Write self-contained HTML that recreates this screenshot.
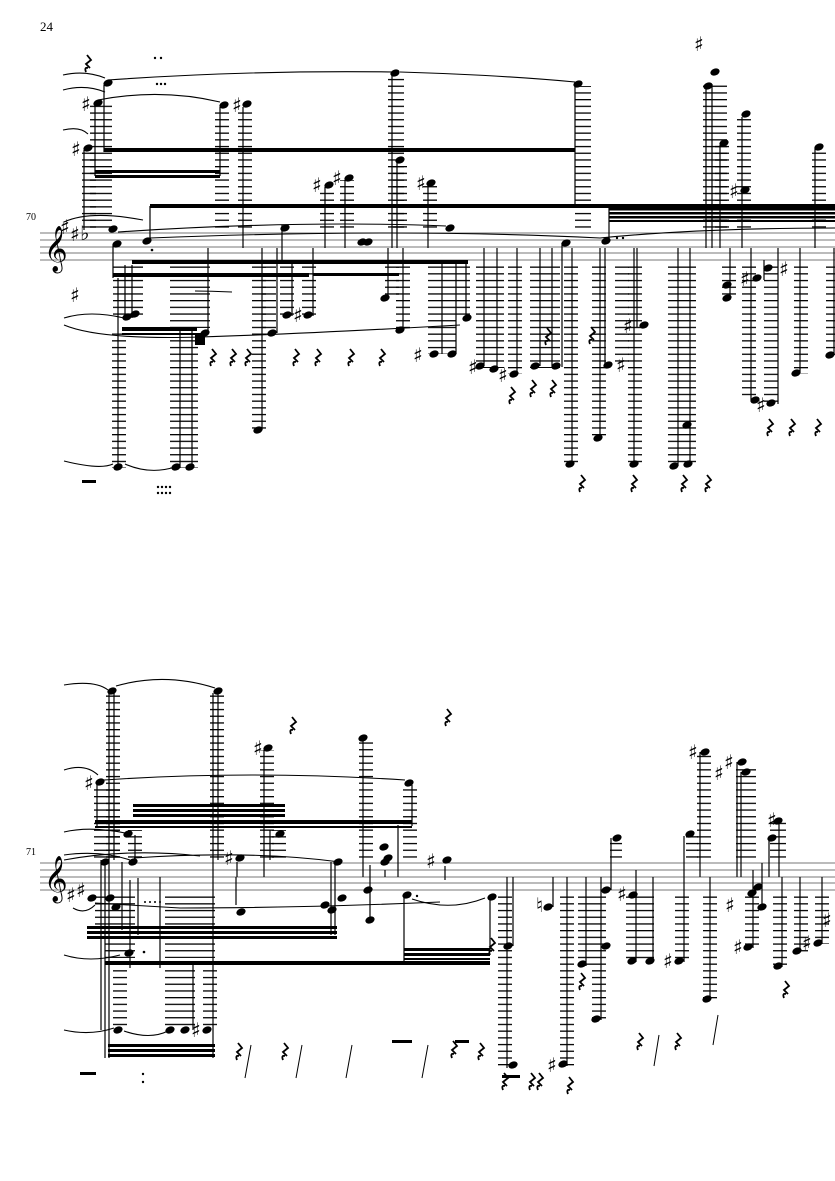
<!DOCTYPE html>
<html><head><meta charset="utf-8"><style>
html,body{margin:0;padding:0;background:#fff;}
svg{display:block;}
text{font-family:"Liberation Serif","DejaVu Serif",serif;}
.s{font-family:"DejaVu Sans",sans-serif;font-size:20px;}
</style></head><body>
<svg width="835" height="1181" viewBox="0 0 835 1181" xmlns="http://www.w3.org/2000/svg">
<defs>
<pattern id="L1" patternUnits="userSpaceOnUse" x="0" y="233" width="10" height="6.7"><rect x="0" y="0" width="10" height="1.3" fill="#000"/></pattern>
<pattern id="L2" patternUnits="userSpaceOnUse" x="0" y="863" width="10" height="6.7"><rect x="0" y="0" width="10" height="1.3" fill="#000"/></pattern>
<g id="n"><ellipse cx="0" cy="0" rx="4.8" ry="3.4" transform="rotate(-22)" fill="#000"/></g>
<g id="r"><path d="M-1,-7 L3,-2 L-2,2 L2,6 M0,6 q-4,-1 -2,4" stroke="#000" stroke-width="1.8" fill="none"/></g>
</defs>
<text x="40" y="31" font-size="13">24</text>
<text x="26" y="220" font-size="10">70</text>
<text x="26" y="855" font-size="10">71</text>

<g stroke="#777" stroke-width="1">
<line x1="40" y1="233" x2="835" y2="233"/><line x1="40" y1="240" x2="835" y2="240"/><line x1="40" y1="247" x2="835" y2="247"/><line x1="40" y1="253" x2="835" y2="253"/><line x1="40" y1="260" x2="835" y2="260"/>
</g>
<text x="44" y="262" font-size="40" font-family="DejaVu Sans">𝄞</text>
<text class="s" x="60" y="234">♯</text><text class="s" x="70" y="241">♯</text><text class="s" x="80" y="240" font-size="14">♭</text>

<g>
<rect x="82" y="150" width="14" height="80" fill="url(#L1)"/>
<rect x="90" y="105" width="22" height="125" fill="url(#L1)"/>
<rect x="215" y="108" width="14" height="122" fill="url(#L1)"/>
<rect x="238" y="108" width="14" height="122" fill="url(#L1)"/>
<rect x="320" y="188" width="14" height="42" fill="url(#L1)"/>
<rect x="340" y="180" width="14" height="50" fill="url(#L1)"/>
<rect x="388" y="76" width="16" height="154" fill="url(#L1)"/>
<rect x="393" y="162" width="14" height="68" fill="url(#L1)"/>
<rect x="423" y="186" width="14" height="44" fill="url(#L1)"/>
<rect x="575" y="86" width="16" height="144" fill="url(#L1)"/>
<rect x="703" y="84" width="24" height="146" fill="url(#L1)"/>
<rect x="715" y="145" width="14" height="85" fill="url(#L1)"/>
<rect x="737" y="116" width="14" height="114" fill="url(#L1)"/>
<rect x="812" y="148" width="14" height="82" fill="url(#L1)"/>
</g>
<g>
<rect x="113" y="266" width="30" height="52" fill="url(#L1)"/>
<rect x="170" y="266" width="40" height="62" fill="url(#L1)"/>
<rect x="112" y="330" width="14" height="138" fill="url(#L1)"/>
<rect x="170" y="330" width="28" height="138" fill="url(#L1)"/>
<rect x="252" y="266" width="14" height="164" fill="url(#L1)"/>
<rect x="262" y="266" width="14" height="68" fill="url(#L1)"/>
<rect x="280" y="266" width="14" height="50" fill="url(#L1)"/>
<rect x="302" y="266" width="14" height="50" fill="url(#L1)"/>
<rect x="385" y="266" width="14" height="32" fill="url(#L1)"/>
<rect x="396" y="266" width="14" height="64" fill="url(#L1)"/>
<rect x="428" y="266" width="28" height="88" fill="url(#L1)"/>
<rect x="456" y="266" width="14" height="52" fill="url(#L1)"/>
<rect x="476" y="266" width="28" height="102" fill="url(#L1)"/>
<rect x="508" y="266" width="14" height="108" fill="url(#L1)"/>
<rect x="530" y="266" width="30" height="102" fill="url(#L1)"/>
<rect x="564" y="266" width="14" height="198" fill="url(#L1)"/>
<rect x="592" y="266" width="14" height="172" fill="url(#L1)"/>
<rect x="615" y="266" width="14" height="100" fill="url(#L1)"/>
<rect x="628" y="266" width="14" height="198" fill="url(#L1)"/>
<rect x="668" y="266" width="28" height="200" fill="url(#L1)"/>
<rect x="722" y="266" width="14" height="34" fill="url(#L1)"/>
<rect x="742" y="266" width="14" height="134" fill="url(#L1)"/>
<rect x="764" y="266" width="14" height="138" fill="url(#L1)"/>
<rect x="794" y="266" width="14" height="108" fill="url(#L1)"/>
<rect x="826" y="266" width="9" height="90" fill="url(#L1)"/>
</g>
<g stroke="#000" stroke-width="1.2">
<line x1="84" y1="150" x2="84" y2="230"/>
<line x1="95" y1="105" x2="95" y2="176"/>
<line x1="104" y1="85" x2="104" y2="152"/>
<line x1="220" y1="107" x2="220" y2="176"/>
<line x1="243" y1="107" x2="243" y2="248"/>
<line x1="325" y1="187" x2="325" y2="248"/>
<line x1="345" y1="180" x2="345" y2="248"/>
<line x1="392" y1="75" x2="392" y2="248"/>
<line x1="397" y1="162" x2="397" y2="248"/>
<line x1="428" y1="186" x2="428" y2="248"/>
<line x1="150" y1="206" x2="150" y2="240"/>
<line x1="113" y1="245" x2="113" y2="278"/>
<line x1="575" y1="85" x2="575" y2="208"/>
<line x1="609" y1="208" x2="609" y2="240"/>
<line x1="706" y1="88" x2="706" y2="248"/>
<line x1="712" y1="84" x2="712" y2="248"/>
<line x1="720" y1="145" x2="720" y2="248"/>
<line x1="742" y1="117" x2="742" y2="248"/>
<line x1="815" y1="148" x2="815" y2="248"/>
<line x1="118" y1="278" x2="118" y2="468"/>
<line x1="125" y1="265" x2="125" y2="318"/>
<line x1="132" y1="265" x2="132" y2="318"/>
<line x1="180" y1="330" x2="180" y2="468"/>
<line x1="192" y1="330" x2="192" y2="468"/>
<line x1="208" y1="248" x2="208" y2="333"/>
<line x1="262" y1="248" x2="262" y2="430"/>
<line x1="277" y1="248" x2="277" y2="333"/>
<line x1="282" y1="225" x2="282" y2="262"/>
<line x1="292" y1="262" x2="292" y2="316"/>
<line x1="313" y1="248" x2="313" y2="316"/>
<line x1="388" y1="248" x2="388" y2="298"/>
<line x1="403" y1="248" x2="403" y2="330"/>
<line x1="442" y1="262" x2="442" y2="354"/>
<line x1="456" y1="262" x2="456" y2="354"/>
<line x1="466" y1="262" x2="466" y2="318"/>
<line x1="484" y1="248" x2="484" y2="366"/>
<line x1="497" y1="248" x2="497" y2="368"/>
<line x1="517" y1="248" x2="517" y2="374"/>
<line x1="540" y1="248" x2="540" y2="366"/>
<line x1="552" y1="248" x2="552" y2="366"/>
<line x1="562" y1="243" x2="562" y2="367"/>
<line x1="572" y1="248" x2="572" y2="464"/>
<line x1="600" y1="248" x2="600" y2="438"/>
<line x1="605" y1="248" x2="605" y2="366"/>
<line x1="637" y1="248" x2="637" y2="327"/>
<line x1="634" y1="248" x2="634" y2="464"/>
<line x1="678" y1="248" x2="678" y2="466"/>
<line x1="690" y1="248" x2="690" y2="464"/>
<line x1="730" y1="248" x2="730" y2="300"/>
<line x1="751" y1="248" x2="751" y2="400"/>
<line x1="764" y1="260" x2="764" y2="280"/>
<line x1="778" y1="248" x2="778" y2="404"/>
<line x1="800" y1="248" x2="800" y2="373"/>
<line x1="834" y1="248" x2="834" y2="355"/>
</g>
<g fill="#000">
<rect x="104" y="148" width="471" height="4"/>
<rect x="95" y="170" width="125" height="3"/>
<rect x="95" y="175" width="125" height="3"/>
<rect x="150" y="204" width="685" height="4"/>
<rect x="609" y="208" width="226" height="2.5"/>
<rect x="609" y="212" width="226" height="2.5"/>
<rect x="609" y="216" width="226" height="2.5"/>
<rect x="609" y="220" width="226" height="2"/>
<rect x="132" y="260" width="336" height="4"/>
<rect x="113" y="273" width="196" height="4"/>
<rect x="313" y="273" width="86" height="3"/>
<rect x="122" y="327" width="75" height="4"/>
<rect x="122" y="333" width="75" height="2"/>
<rect x="195" y="333" width="10" height="12"/>
</g>
<g>
<use href="#n" x="88" y="148"/><use href="#n" x="98" y="103"/><use href="#n" x="108" y="83"/>
<use href="#n" x="224" y="105"/><use href="#n" x="247" y="104"/>
<use href="#n" x="329" y="185"/><use href="#n" x="349" y="178"/>
<use href="#n" x="395" y="73"/><use href="#n" x="400" y="160"/><use href="#n" x="431" y="183"/>
<use href="#n" x="113" y="229"/><use href="#n" x="117" y="244"/><use href="#n" x="147" y="241"/>
<use href="#n" x="285" y="228"/><use href="#n" x="362" y="242"/><use href="#n" x="368" y="242"/>
<use href="#n" x="450" y="228"/><use href="#n" x="566" y="243"/><use href="#n" x="606" y="241"/>
<use href="#n" x="578" y="84"/><use href="#n" x="708" y="86"/><use href="#n" x="715" y="72"/>
<use href="#n" x="724" y="143"/><use href="#n" x="746" y="114"/><use href="#n" x="745" y="190"/><use href="#n" x="819" y="147"/>
<use href="#n" x="127" y="317"/><use href="#n" x="135" y="314"/><use href="#n" x="118" y="467"/>
<use href="#n" x="176" y="467"/><use href="#n" x="190" y="467"/><use href="#n" x="205" y="333"/>
<use href="#n" x="258" y="430"/><use href="#n" x="272" y="333"/><use href="#n" x="287" y="315"/><use href="#n" x="308" y="315"/>
<use href="#n" x="385" y="298"/><use href="#n" x="400" y="330"/><use href="#n" x="434" y="354"/><use href="#n" x="452" y="354"/>
<use href="#n" x="467" y="318"/><use href="#n" x="480" y="366"/><use href="#n" x="494" y="369"/><use href="#n" x="514" y="374"/>
<use href="#n" x="535" y="366"/><use href="#n" x="556" y="366"/><use href="#n" x="570" y="464"/><use href="#n" x="598" y="438"/>
<use href="#n" x="608" y="365"/><use href="#n" x="644" y="325"/><use href="#n" x="634" y="464"/>
<use href="#n" x="674" y="466"/><use href="#n" x="688" y="464"/><use href="#n" x="687" y="425"/>
<use href="#n" x="727" y="298"/><use href="#n" x="727" y="285"/><use href="#n" x="757" y="278"/><use href="#n" x="755" y="400"/>
<use href="#n" x="768" y="268"/><use href="#n" x="771" y="403"/><use href="#n" x="796" y="373"/><use href="#n" x="830" y="355"/>
</g>
<g>
<text class="s" x="71" y="156">♯</text><text class="s" x="81" y="111">♯</text><text class="s" x="232" y="112">♯</text>
<text class="s" x="312" y="192">♯</text><text class="s" x="332" y="185">♯</text><text class="s" x="416" y="190">♯</text>
<text class="s" x="70" y="302">♯</text><text class="s" x="293" y="322">♯</text><text class="s" x="413" y="362">♯</text>
<text class="s" x="468" y="374">♯</text><text class="s" x="498" y="382">♯</text><text class="s" x="623" y="333">♯</text>
<text class="s" x="616" y="372">♯</text><text class="s" x="694" y="51">♯</text><text class="s" x="729" y="198">♯</text>
<text class="s" x="740" y="286">♯</text><text class="s" x="756" y="412">♯</text><text class="s" x="779" y="276">♯</text>
</g>
<g>
<use href="#r" x="88" y="62"/><use href="#r" x="213" y="356"/><use href="#r" x="233" y="356"/><use href="#r" x="248" y="356"/>
<use href="#r" x="296" y="356"/><use href="#r" x="318" y="356"/><use href="#r" x="351" y="356"/><use href="#r" x="382" y="356"/>
<use href="#r" x="548" y="335"/><use href="#r" x="592" y="334"/><use href="#r" x="512" y="394"/><use href="#r" x="533" y="387"/><use href="#r" x="553" y="387"/>
<use href="#r" x="582" y="482"/><use href="#r" x="634" y="482"/><use href="#r" x="684" y="482"/><use href="#r" x="708" y="482"/>
<use href="#r" x="770" y="426"/><use href="#r" x="792" y="426"/><use href="#r" x="818" y="426"/>
<rect x="82" y="480" width="14" height="3"/>
</g>
<g fill="none" stroke="#000" stroke-width="1.1">
<path d="M108,80 Q250,70 395,72"/><path d="M400,72 Q500,75 575,82"/>
<path d="M98,100 Q160,88 220,102"/>
<path d="M118,232 Q300,220 446,226"/><path d="M150,238 Q400,228 600,238 Q700,228 835,228"/>
<path d="M64,222 Q90,210 143,220"/>
<path d="M63,75 Q85,70 105,78"/><path d="M63,90 Q85,84 105,92"/><path d="M63,130 Q80,126 88,134"/>
<path d="M64,318 Q90,310 124,318"/><path d="M64,325 Q100,340 200,337 Q300,334 460,325"/>
<path d="M195,291 Q210,291 232,292"/><path d="M64,461 Q100,470 113,464"/><path d="M125,464 Q150,475 175,467"/>
</g>
<g fill="#000"><circle cx="155" cy="58" r="1.2"/><circle cx="161" cy="58" r="1.2"/><circle cx="157" cy="84" r="1.2"/><circle cx="161" cy="84" r="1.2"/><circle cx="165" cy="84" r="1.2"/><circle cx="152" cy="250" r="1.3"/><circle cx="158" cy="487" r="1.2"/><circle cx="162" cy="487" r="1.2"/><circle cx="166" cy="487" r="1.2"/><circle cx="170" cy="487" r="1.2"/><circle cx="158" cy="493" r="1.2"/><circle cx="162" cy="493" r="1.2"/><circle cx="166" cy="493" r="1.2"/><circle cx="170" cy="493" r="1.2"/><circle cx="623" cy="238" r="1.2"/><circle cx="617" cy="238" r="1.2"/></g>

<g stroke="#777" stroke-width="1">
<line x1="40" y1="863" x2="835" y2="863"/><line x1="40" y1="870" x2="835" y2="870"/><line x1="40" y1="877" x2="835" y2="877"/><line x1="40" y1="883" x2="835" y2="883"/><line x1="40" y1="890" x2="835" y2="890"/>
</g>
<text x="44" y="892" font-size="40" font-family="DejaVu Sans">𝄞</text>
<g>
<rect x="106" y="693" width="14" height="167" fill="url(#L2)"/>
<rect x="210" y="693" width="14" height="167" fill="url(#L2)"/>
<rect x="94" y="785" width="26" height="75" fill="url(#L2)"/>
<rect x="128" y="830" width="14" height="30" fill="url(#L2)"/>
<rect x="260" y="750" width="14" height="110" fill="url(#L2)"/>
<rect x="272" y="830" width="14" height="30" fill="url(#L2)"/>
<rect x="359" y="740" width="14" height="120" fill="url(#L2)"/>
<rect x="403" y="785" width="14" height="75" fill="url(#L2)"/>
<rect x="610" y="840" width="12" height="20" fill="url(#L2)"/>
<rect x="686" y="836" width="12" height="24" fill="url(#L2)"/>
<rect x="697" y="754" width="14" height="106" fill="url(#L2)"/>
<rect x="736" y="764" width="20" height="96" fill="url(#L2)"/>
<rect x="770" y="822" width="16" height="38" fill="url(#L2)"/>
</g>
<g>
<rect x="95" y="896" width="40" height="30" fill="url(#L2)"/>
<rect x="165" y="896" width="50" height="30" fill="url(#L2)"/>
<rect x="105" y="940" width="30" height="18" fill="url(#L2)"/>
<rect x="165" y="940" width="50" height="18" fill="url(#L2)"/>
<rect x="113" y="966" width="14" height="64" fill="url(#L2)"/>
<rect x="165" y="966" width="30" height="64" fill="url(#L2)"/>
<rect x="203" y="966" width="14" height="64" fill="url(#L2)"/>
<rect x="498" y="896" width="14" height="172" fill="url(#L2)"/>
<rect x="560" y="896" width="14" height="170" fill="url(#L2)"/>
<rect x="578" y="896" width="14" height="70" fill="url(#L2)"/>
<rect x="592" y="896" width="14" height="124" fill="url(#L2)"/>
<rect x="626" y="896" width="28" height="66" fill="url(#L2)"/>
<rect x="675" y="896" width="14" height="66" fill="url(#L2)"/>
<rect x="703" y="896" width="14" height="104" fill="url(#L2)"/>
<rect x="745" y="896" width="14" height="52" fill="url(#L2)"/>
<rect x="773" y="896" width="14" height="72" fill="url(#L2)"/>
<rect x="794" y="896" width="14" height="56" fill="url(#L2)"/>
<rect x="815" y="896" width="14" height="48" fill="url(#L2)"/>
</g>
<g stroke="#000" stroke-width="1.2">
<line x1="109" y1="693" x2="109" y2="1058"/>
<line x1="114" y1="693" x2="114" y2="860"/>
<line x1="213" y1="693" x2="213" y2="1058"/>
<line x1="218" y1="693" x2="218" y2="860"/>
<line x1="97" y1="783" x2="97" y2="826"/>
<line x1="101" y1="860" x2="101" y2="1030"/>
<line x1="105" y1="860" x2="105" y2="1058"/>
<line x1="135" y1="835" x2="135" y2="862"/>
<line x1="122" y1="862" x2="122" y2="930"/>
<line x1="138" y1="878" x2="138" y2="935"/>
<line x1="130" y1="880" x2="130" y2="968"/>
<line x1="160" y1="877" x2="160" y2="968"/>
<line x1="193" y1="962" x2="193" y2="1030"/>
<line x1="264" y1="750" x2="264" y2="877"/>
<line x1="270" y1="830" x2="270" y2="860"/>
<line x1="237" y1="862" x2="237" y2="877"/>
<line x1="236" y1="877" x2="236" y2="905"/>
<line x1="363" y1="740" x2="363" y2="877"/>
<line x1="398" y1="825" x2="398" y2="877"/>
<line x1="412" y1="785" x2="412" y2="826"/>
<line x1="331" y1="862" x2="331" y2="935"/>
<line x1="335" y1="862" x2="335" y2="935"/>
<line x1="370" y1="865" x2="370" y2="920"/>
<line x1="385" y1="870" x2="385" y2="877"/>
<line x1="445" y1="866" x2="445" y2="880"/>
<line x1="404" y1="895" x2="404" y2="962"/>
<line x1="490" y1="897" x2="490" y2="950"/>
<line x1="507" y1="877" x2="507" y2="1068"/>
<line x1="513" y1="877" x2="513" y2="946"/>
<line x1="553" y1="877" x2="553" y2="907"/>
<line x1="567" y1="877" x2="567" y2="1066"/>
<line x1="586" y1="877" x2="586" y2="966"/>
<line x1="601" y1="877" x2="601" y2="1020"/>
<line x1="611" y1="838" x2="611" y2="890"/>
<line x1="636" y1="870" x2="636" y2="962"/>
<line x1="653" y1="877" x2="653" y2="962"/>
<line x1="684" y1="836" x2="684" y2="962"/>
<line x1="700" y1="752" x2="700" y2="877"/>
<line x1="710" y1="877" x2="710" y2="1000"/>
<line x1="737" y1="762" x2="737" y2="877"/>
<line x1="741" y1="772" x2="741" y2="877"/>
<line x1="753" y1="870" x2="753" y2="948"/>
<line x1="762" y1="863" x2="762" y2="907"/>
<line x1="769" y1="838" x2="769" y2="877"/>
<line x1="779" y1="820" x2="779" y2="877"/>
<line x1="782" y1="877" x2="782" y2="967"/>
<line x1="800" y1="877" x2="800" y2="951"/>
<line x1="822" y1="877" x2="822" y2="944"/>
</g>
<g fill="#000">
<rect x="133" y="804" width="152" height="3"/><rect x="133" y="809" width="152" height="3"/><rect x="133" y="814" width="152" height="3"/>
<rect x="95" y="820" width="317" height="4"/><rect x="95" y="826" width="317" height="2"/>
<rect x="87" y="926" width="250" height="3"/><rect x="87" y="931" width="250" height="3"/><rect x="87" y="936" width="250" height="3"/>
<rect x="105" y="961" width="385" height="4"/>
<rect x="404" y="948" width="86" height="3"/><rect x="404" y="953" width="86" height="3"/><rect x="404" y="958" width="86" height="2"/>
<rect x="108" y="1044" width="107" height="3"/><rect x="108" y="1049" width="107" height="3"/><rect x="108" y="1054" width="107" height="3"/>
</g>
<g>
<use href="#n" x="112" y="691"/><use href="#n" x="218" y="691"/><use href="#n" x="100" y="782"/>
<use href="#n" x="128" y="834"/><use href="#n" x="268" y="748"/><use href="#n" x="363" y="738"/><use href="#n" x="409" y="783"/>
<use href="#n" x="280" y="834"/><use href="#n" x="388" y="858"/><use href="#n" x="384" y="847"/>
<use href="#n" x="105" y="862"/><use href="#n" x="133" y="862"/><use href="#n" x="240" y="858"/>
<use href="#n" x="338" y="862"/><use href="#n" x="385" y="862"/><use href="#n" x="447" y="860"/>
<use href="#n" x="92" y="898"/><use href="#n" x="110" y="898"/><use href="#n" x="116" y="907"/>
<use href="#n" x="241" y="912"/><use href="#n" x="325" y="905"/><use href="#n" x="332" y="910"/><use href="#n" x="342" y="898"/>
<use href="#n" x="368" y="890"/><use href="#n" x="370" y="920"/><use href="#n" x="407" y="895"/>
<use href="#n" x="129" y="953"/><use href="#n" x="118" y="1030"/><use href="#n" x="170" y="1030"/><use href="#n" x="185" y="1030"/><use href="#n" x="207" y="1030"/>
<use href="#n" x="492" y="897"/><use href="#n" x="508" y="946"/><use href="#n" x="513" y="1065"/>
<use href="#n" x="548" y="907"/><use href="#n" x="563" y="1064"/><use href="#n" x="582" y="964"/>
<use href="#n" x="596" y="1019"/><use href="#n" x="606" y="946"/><use href="#n" x="606" y="890"/><use href="#n" x="617" y="838"/>
<use href="#n" x="633" y="895"/><use href="#n" x="632" y="961"/><use href="#n" x="650" y="961"/><use href="#n" x="679" y="961"/>
<use href="#n" x="690" y="834"/><use href="#n" x="705" y="752"/><use href="#n" x="707" y="999"/>
<use href="#n" x="742" y="762"/><use href="#n" x="746" y="772"/><use href="#n" x="748" y="947"/><use href="#n" x="752" y="893"/>
<use href="#n" x="758" y="887"/><use href="#n" x="762" y="907"/><use href="#n" x="772" y="838"/><use href="#n" x="778" y="821"/>
<use href="#n" x="778" y="966"/><use href="#n" x="797" y="951"/><use href="#n" x="818" y="943"/>
</g>
<g>
<text class="s" x="84" y="790">♯</text><text class="s" x="253" y="755">♯</text><text class="s" x="224" y="865">♯</text>
<text class="s" x="66" y="902">♯</text><text class="s" x="76" y="897">♯</text><text class="s" x="191" y="1037">♯</text>
<text class="s" x="426" y="868">♯</text><text class="s" x="536" y="912" font-size="15">♮</text><text class="s" x="547" y="1072">♯</text>
<text class="s" x="617" y="901">♯</text><text class="s" x="663" y="968">♯</text><text class="s" x="688" y="759">♯</text>
<text class="s" x="714" y="780">♯</text><text class="s" x="724" y="769">♯</text><text class="s" x="725" y="912">♯</text>
<text class="s" x="733" y="954">♯</text><text class="s" x="767" y="827">♯</text><text class="s" x="802" y="950">♯</text><text class="s" x="822" y="927">♯</text>
</g>
<g>
<use href="#r" x="293" y="724"/><use href="#r" x="448" y="716"/><use href="#r" x="239" y="1050"/><use href="#r" x="285" y="1050"/>
<use href="#r" x="454" y="1048"/><use href="#r" x="492" y="945"/><use href="#r" x="505" y="1080"/><use href="#r" x="532" y="1080"/>
<use href="#r" x="540" y="1080"/><use href="#r" x="570" y="1084"/><use href="#r" x="481" y="1050"/><use href="#r" x="582" y="980"/>
<use href="#r" x="640" y="1040"/><use href="#r" x="678" y="1040"/><use href="#r" x="786" y="988"/>
<path d="M251,1045 L245,1078 M302,1045 L296,1078 M352,1045 L346,1078 M428,1045 L422,1078 M659,1035 L654,1066 M718,1015 L713,1045" stroke="#000" stroke-width="1"/>
<rect x="80" y="1072" width="16" height="3"/><rect x="502" y="1075" width="18" height="3"/><rect x="455" y="1040" width="14" height="3"/><rect x="392" y="1040" width="20" height="3"/>
</g>
<g fill="none" stroke="#000" stroke-width="1.1">
<path d="M64,685 Q95,680 108,690"/><path d="M116,686 Q165,672 215,688"/>
<path d="M64,770 Q85,763 98,775"/><path d="M104,780 Q250,770 405,780"/>
<path d="M64,832 Q90,826 125,833"/><path d="M64,855 Q100,850 130,860 M134,858 Q250,850 340,862 M64,860 Q130,848 200,856"/>
<path d="M95,903 Q130,905 180,908 Q300,908 440,902"/><path d="M412,899 Q450,912 485,898"/>
<path d="M64,955 Q90,963 120,955"/><path d="M64,1030 Q90,1036 114,1028"/><path d="M124,1031 Q150,1040 168,1031"/>
<path d="M73,908 Q85,915 95,905"/>
</g>
<g fill="#000"><circle cx="144" cy="952" r="1.3"/><circle cx="143" cy="1074" r="1.2"/><circle cx="143" cy="1082" r="1.2"/><circle cx="145" cy="902" r="1"/><circle cx="150" cy="902" r="1"/><circle cx="155" cy="902" r="1"/><circle cx="160" cy="902" r="1"/><circle cx="417" cy="896" r="1.2"/></g>
</svg>
</body></html>
